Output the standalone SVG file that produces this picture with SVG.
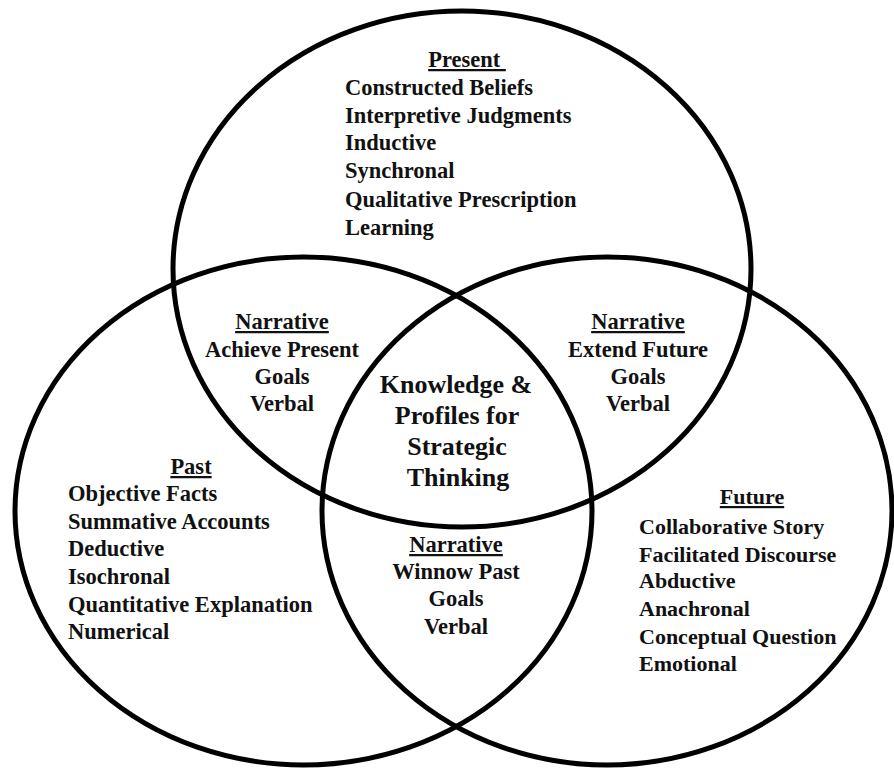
<svg xmlns="http://www.w3.org/2000/svg" width="894" height="769" viewBox="0 0 894 769">
<style>
.c{fill:none;stroke:#000;stroke-width:5}
text{font-family:"Liberation Serif","Times New Roman",serif;font-size:22.5px;font-weight:bold;fill:#111}
.m{text-anchor:middle}
.u{text-decoration:underline;white-space:pre}
.k{font-size:26px}
.f{font-size:22px}
</style>
<rect width="894" height="769" fill="#fff"/>
<g id="circles">
<ellipse id="present-circle" class="c" cx="462" cy="269" rx="289" ry="258"/>
<ellipse id="past-circle" class="c" cx="303.5" cy="511" rx="288.5" ry="254"/>
<ellipse id="future-circle" class="c" cx="607" cy="511" rx="285" ry="254"/>
</g>
<g id="present">
<text class="m u" x="467" y="67">Present </text>
<text x="345" y="95">Constructed Beliefs</text>
<text x="345" y="123">Interpretive Judgments</text>
<text x="345" y="150">Inductive</text>
<text x="345" y="178">Synchronal</text>
<text x="345" y="207">Qualitative Prescription</text>
<text x="345" y="235">Learning</text>
</g>
<g id="narrative-present">
<text class="m u" x="282" y="329">Narrative</text>
<text class="m" x="282" y="357">Achieve Present</text>
<text class="m" x="282" y="384">Goals</text>
<text class="m" x="282" y="411">Verbal</text>
</g>
<g id="narrative-future">
<text class="m u" x="638" y="329">Narrative</text>
<text class="m" x="638" y="357">Extend Future</text>
<text class="m" x="638" y="384">Goals</text>
<text class="m" x="638" y="411">Verbal</text>
</g>
<g id="center">
<text class="m k" x="456" y="393">Knowledge &amp;</text>
<text class="m k" x="457" y="424">Profiles for</text>
<text class="m k" x="457" y="455">Strategic</text>
<text class="m k" x="458" y="486">Thinking</text>
</g>
<g id="past">
<text class="m u" x="191" y="474">Past</text>
<text x="68" y="501">Objective Facts</text>
<text x="68" y="529">Summative Accounts</text>
<text x="68" y="556">Deductive</text>
<text x="68" y="584">Isochronal</text>
<text x="68" y="612">Quantitative Explanation</text>
<text x="68" y="639">Numerical</text>
</g>
<g id="future">
<text class="m u f" x="752" y="504">Future</text>
<text class="f" x="639" y="534">Collaborative Story</text>
<text class="f" x="639" y="562">Facilitated Discourse</text>
<text class="f" x="639" y="588">Abductive</text>
<text class="f" x="639" y="616">Anachronal</text>
<text class="f" x="639" y="644">Conceptual Question</text>
<text class="f" x="639" y="671">Emotional</text>
</g>
<g id="narrative-past">
<text class="m u" x="456" y="552">Narrative</text>
<text class="m" x="456" y="579">Winnow Past</text>
<text class="m" x="456" y="606">Goals</text>
<text class="m" x="456" y="634">Verbal</text>
</g>
</svg>
